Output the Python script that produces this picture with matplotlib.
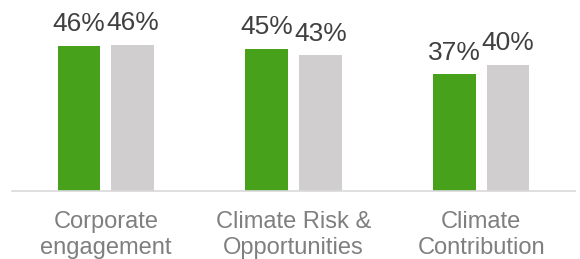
"""
Grouped bar chart: green vs grey share per climate topic.
"""

import numpy as np
import matplotlib
matplotlib.use('Agg')
import matplotlib.pyplot as plt

plt.rcParams['font.family'] = ['Liberation Sans', 'DejaVu Sans']

# --- data ---
categories = ['Corporate\nengagement', 'Climate Risk &\nOpportunities', 'Climate\nContribution']
green_values = [46.0, 45.0, 37.0]
grey_values = [46.4, 43.0, 40.0]

GREEN = '#48A11B'
GREY = '#D0CECE'
LABEL_DARK = '#404040'
LABEL_GREY = '#7F7F7F'

fig = plt.figure(figsize=(5.8, 2.59), dpi=100)
ax = fig.add_axes([12 / 580, 68 / 259, 563 / 580, 191 / 259])

x = np.arange(len(categories))
width = 0.226
offset = 0.143

bars_g = ax.bar(x - offset, green_values, width, color=GREEN, zorder=2)
bars_r = ax.bar(x + offset, grey_values, width, color=GREY, zorder=2)

# --- value labels ---
for bars in (bars_g, bars_r):
    for b in bars:
        h = b.get_height()
        ax.annotate(f'{h:.0f}%', xy=(b.get_x() + b.get_width() / 2, h),
                    xytext=(0, 10.5), textcoords='offset points',
                    ha='center', va='baseline', fontsize=19, color=LABEL_DARK)

ax.set_xlim(-0.5, 2.5)
ax.set_ylim(0, 60.5)
ax.set_xticks(x)
ax.set_xticklabels(categories, fontsize=17, color=LABEL_GREY, linespacing=1.2)
ax.tick_params(axis='x', length=0, pad=14.5)
ax.set_yticks([])

for side in ('top', 'right', 'left'):
    ax.spines[side].set_visible(False)
ax.spines['bottom'].set_color('#D9D9D9')
ax.spines['bottom'].set_linewidth(1.2)
ax.patch.set_alpha(0)

fig.savefig('out.png', dpi=100)
plt.close(fig)
